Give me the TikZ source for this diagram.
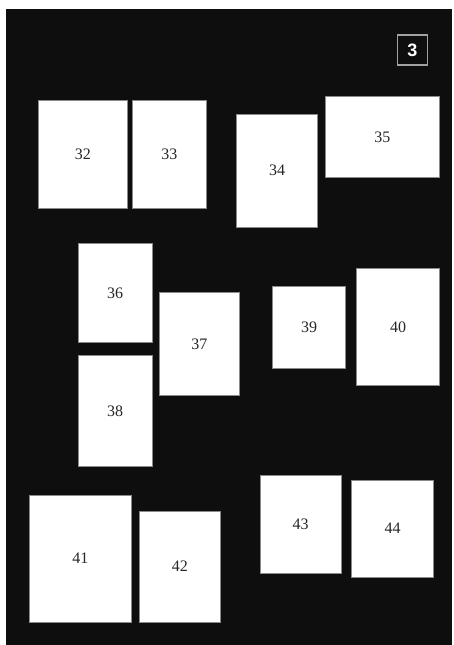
\documentclass[tikz,border=0pt]{standalone}
\usepackage{fontspec}
\setmainfont{Liberation Serif}
\newfontfamily\badgefont{Liberation Sans}
\definecolor{bg}{HTML}{0E0E0E}
\definecolor{edge}{HTML}{8A8A8A}
\tikzset{
  pagebox/.style={draw=edge, line width=0.8pt, fill=white, inner sep=0pt,
    font=\fontsize{16}{16}\selectfont, text=black!85},
  badge/.style={draw=edge!80!white, line width=1.2pt, inner sep=0pt,
    minimum width=30pt, minimum height=30pt,
    font=\badgefont\bfseries\fontsize{18}{18}\selectfont, text=white}
}
\newcommand{\pagerect}[6]{% name, x1, y1, x2, y2, label
  \path[pagebox] (#2,#3) rectangle (#4,#5);
  \node[inner sep=0pt, font=\fontsize{16}{16}\selectfont, text=black!85] (#1) at ({(#2+#4)/2},{(#3+#5)/2}) {#6};
}
\begin{document}
\begin{tikzpicture}[x=1pt,y=-1pt]
\useasboundingbox (0,0) rectangle (454,645);
\fill[white] (0,0) rectangle (454,645);
\fill[bg] (6,9) rectangle (452,645);
\node[badge] (badge) at (412.5,50) {3};
\pagerect{p32}{38.3}{100.3}{127.3}{208.3}{32}
\pagerect{p33}{132.7}{100.3}{206}{208.3}{33}
\pagerect{p34}{236.3}{114.3}{317.7}{227}{34}
\pagerect{p35}{325}{96}{439.7}{177.7}{35}
\pagerect{p36}{78.3}{243.7}{152}{342}{36}
\pagerect{p37}{159}{292.7}{239.7}{395.7}{37}
\pagerect{p38}{78.3}{355.3}{152}{466.3}{38}
\pagerect{p39}{272.7}{286}{345.7}{368.3}{39}
\pagerect{p40}{356.7}{268.3}{439.7}{385.7}{40}
\pagerect{p41}{29.3}{495}{131.3}{622}{41}
\pagerect{p42}{139.3}{511}{220.3}{622}{42}
\pagerect{p43}{260.3}{475.7}{341}{573}{43}
\pagerect{p44}{351.7}{480.3}{433.3}{577}{44}
\end{tikzpicture}
\end{document}
